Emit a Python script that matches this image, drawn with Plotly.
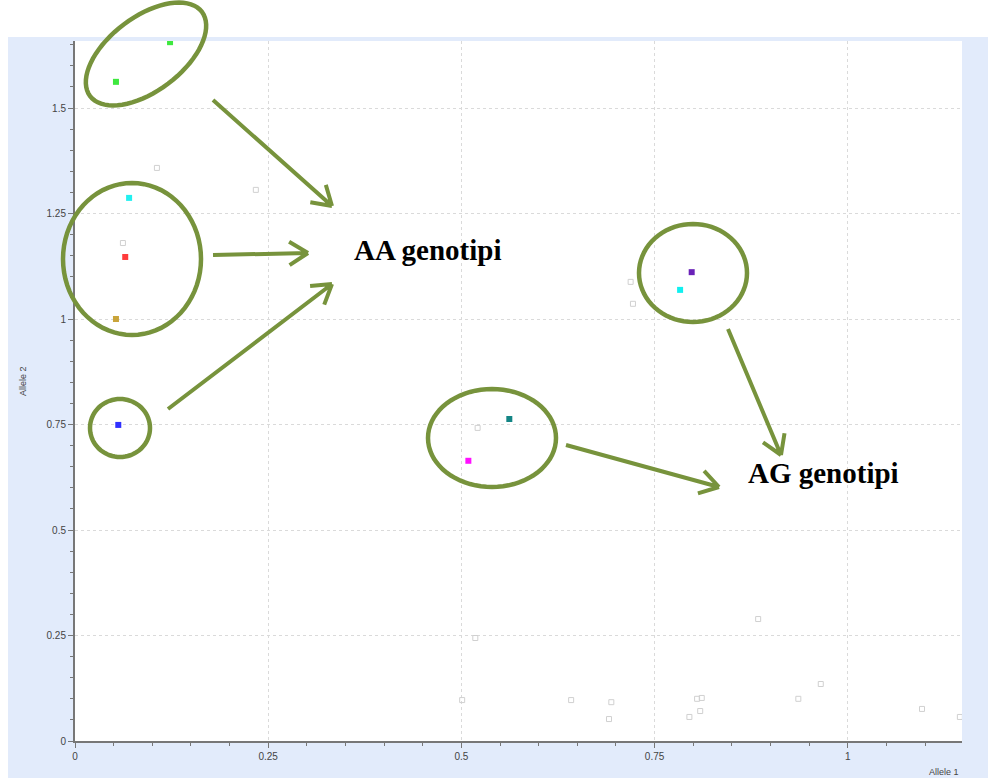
import math
import plotly.graph_objects as go

# Allelic discrimination scatter: Allele 1 vs Allele 2 signal per sample
called_x = [0.123, 0.053, 0.070, 0.065, 0.053, 0.056, 0.798, 0.783, 0.562, 0.509]
called_y = [1.656, 1.562, 1.287, 1.147, 1.000, 0.749, 1.111, 1.069, 0.763, 0.664]
called_colors = ["#3ee83e", "#3ee83e", "#22f0f0", "#ff3b3b", "#c9a43a",
                 "#3030ff", "#6a22b8", "#10f0f0", "#138585", "#ff10ff"]

undet_x = [0.106, 0.234, 0.062, 0.719, 0.722, 0.521, 0.518, 0.501, 0.642, 0.694,
           0.691, 0.795, 0.805, 0.811, 0.809, 0.884, 0.936, 0.965, 1.096, 1.145]
undet_y = [1.358, 1.306, 1.180, 1.088, 1.036, 0.742, 0.244, 0.097, 0.097, 0.092,
           0.052, 0.057, 0.100, 0.102, 0.071, 0.289, 0.100, 0.135, 0.076, 0.057]

x_ticks = [0, 0.25, 0.5, 0.75, 1]
x_tick_labels = ["0", "0.25", "0.5", "0.75", "1"]
y_ticks = [0, 0.25, 0.5, 0.75, 1, 1.25, 1.5]
y_tick_labels = ["0", "0.25", "0.5", "0.75", "1", "1.25", "1.5"]

W, H = 988, 780
L, R, T, B = 75, 26, 41, 39
PW, PH = W - L - R, H - T - B
OLIVE = "#77933c"


def to_paper(px, py):
    return (px - L) / PW, (H - B - py) / PH


def ellipse_path(cx, cy, a, b, ang_deg=0.0, n=72):
    th = math.radians(ang_deg)
    pts = []
    for k in range(n):
        t = 2 * math.pi * k / n
        ex, ey = a * math.cos(t), b * math.sin(t)
        px = cx + ex * math.cos(th) - ey * math.sin(th)
        py = cy - (ex * math.sin(th) + ey * math.cos(th))
        pts.append(to_paper(px, py))
    return "M " + " L ".join(f"{x:.5f},{y:.5f}" for x, y in pts) + " Z"


def arrow_path(x0, y0, x1, y1, head=22, spread=32):
    ang = math.atan2(y1 - y0, x1 - x0)
    segs = [f"M {to_paper(x0, y0)[0]:.5f},{to_paper(x0, y0)[1]:.5f} "
            f"L {to_paper(x1, y1)[0]:.5f},{to_paper(x1, y1)[1]:.5f}"]
    for s in (-1, 1):
        a = ang + math.pi + s * math.radians(spread)
        hx, hy = x1 + head * math.cos(a), y1 + head * math.sin(a)
        p = to_paper(hx, hy)
        q = to_paper(x1, y1)
        segs.append(f"M {p[0]:.5f},{p[1]:.5f} L {q[0]:.5f},{q[1]:.5f}")
    return " ".join(segs)


fig = go.Figure()

fig.add_trace(go.Scatter(
    x=undet_x, y=undet_y, mode="markers",
    marker=dict(symbol="square-open", size=5, color="#d0d0d0",
                line=dict(width=1, color="#d0d0d0")),
    showlegend=False, hoverinfo="x+y"))

fig.add_trace(go.Scatter(
    x=called_x, y=called_y, mode="markers",
    marker=dict(symbol="square", size=6, color=called_colors,
                line=dict(width=0)),
    showlegend=False, hoverinfo="x+y"))

shapes = []
# light blue chart panel with the white plotting area on top
bx0, by0 = to_paper(8, 37)
bx1, by1 = to_paper(988, 778)
shapes.append(dict(type="rect", xref="paper", yref="paper", layer="below",
                   x0=bx0, y0=by1, x1=bx1, y1=by0,
                   fillcolor="#e2ebfb", line=dict(width=0)))
shapes.append(dict(type="rect", xref="paper", yref="paper", layer="below",
                   x0=0, y0=0, x1=1, y1=1,
                   fillcolor="white", line=dict(width=0)))

# highlight ellipses around genotype clusters
for cx, cy, a, b, ang in [(146, 54, 70, 37, 37),
                          (132, 259, 69, 76, 0),
                          (120, 428, 30, 29, 0),
                          (492, 438, 64, 49, 0),
                          (693, 273, 54, 49, 0)]:
    shapes.append(dict(type="path", xref="paper", yref="paper",
                       path=ellipse_path(cx, cy, a, b, ang),
                       line=dict(color=OLIVE, width=4.5)))

# arrows pointing to the genotype labels
for x0, y0, x1, y1 in [(213, 100, 332, 206),
                       (213, 255, 308, 253),
                       (168, 409, 332, 284),
                       (728, 329, 781, 455),
                       (566, 445, 719, 487)]:
    shapes.append(dict(type="path", xref="paper", yref="paper",
                       path=arrow_path(x0, y0, x1, y1),
                       line=dict(color=OLIVE, width=4)))

annotations = []
for text, px, py in [("AA genotipi", 427, 250), ("AG genotipi", 823, 473)]:
    ax, ay = to_paper(px, py)
    annotations.append(dict(text=f"<b>{text}</b>", x=ax, y=ay, xref="paper",
                            yref="paper", showarrow=False, xanchor="center",
                            yanchor="middle",
                            font=dict(family="Liberation Serif", size=29,
                                      color="black")))

tx, ty = to_paper(16, 381)
annotations.append(dict(text="Allele 2", x=tx, y=ty, xref="paper", yref="paper",
                        showarrow=False, textangle=-90,
                        font=dict(family="Liberation Sans", size=9, color="#444")))
tx, ty = to_paper(961, 772)
annotations.append(dict(text="Allele 1", x=tx, y=ty, xref="paper", yref="paper",
                        showarrow=False, xanchor="right", yanchor="middle",
                        font=dict(family="Liberation Sans", size=9, color="#444")))

axis_common = dict(
    showgrid=True, gridcolor="#dadada", griddash="dot", gridwidth=1,
    zeroline=False, showline=True, linecolor="#777", linewidth=2,
    ticks="outside", ticklen=5, tickcolor="#777", tickwidth=1,
    tickfont=dict(family="Liberation Sans", size=10, color="#444"),
    minor=dict(dtick=0.05, ticks="outside", ticklen=3, tickcolor="#777",
               showgrid=False),
)

fig.update_layout(
    width=W, height=H,
    margin=dict(l=L, r=R, t=T, b=B),
    paper_bgcolor="white", plot_bgcolor="rgba(0,0,0,0)",
    xaxis=dict(range=[0, PW / 772.8], tickvals=x_ticks, ticktext=x_tick_labels,
               **axis_common),
    yaxis=dict(range=[0, PH / 422.0], tickvals=y_ticks, ticktext=y_tick_labels,
               **axis_common),
    shapes=shapes, annotations=annotations,
)

fig.write_html("out.html")
